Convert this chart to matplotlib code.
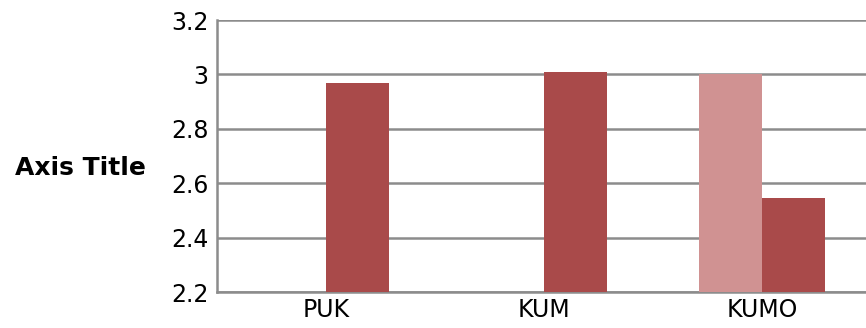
import numpy as np
import matplotlib.pyplot as plt

# category labels and the two series
categories = ['PUK', 'KUM', 'KUMO']
series_light = [np.nan, np.nan, 3.0]
series_dark = [2.97, 3.01, 2.545]

fig = plt.figure(figsize=(8.66, 3.28), dpi=100)
# axes run slightly past the right edge of the figure
ax = fig.add_axes([217 / 866, 36 / 328, 654 / 866, 272 / 328])

x = np.arange(len(categories))
w = 0.288
ax.bar(x - w / 2, series_light, width=w, color='#d09292', zorder=3)
ax.bar(x + w / 2, series_dark, width=w, color='#a94a4a', zorder=3)

ax.set_xlim(-0.5, len(categories) - 0.5)
ax.set_ylim(2.2, 3.2)
ax.set_yticks([2.2, 2.4, 2.6, 2.8, 3.0, 3.2])
ax.set_yticklabels(['2.2', '2.4', '2.6', '2.8', '3', '3.2'])
ax.set_xticks(x)
ax.set_xticklabels(categories)
ax.tick_params(axis='both', labelsize=17, length=0, pad=6)
ax.tick_params(axis='x', pad=4)

ax.yaxis.grid(True, color='#8c8c8c', linewidth=1.8, zorder=0)
for side in ['top', 'right']:
    ax.spines[side].set_visible(False)
for side in ['left', 'bottom']:
    ax.spines[side].set_color('#8c8c8c')
    ax.spines[side].set_linewidth(1.8)

fig.text(15 / 866, 1 - 168 / 328, 'Axis Title', fontsize=18, fontweight='bold',
         ha='left', va='center')

fig.savefig('out.png', dpi=100)
